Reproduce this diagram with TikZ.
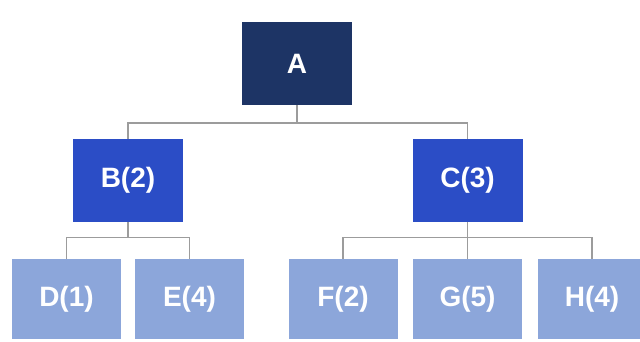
\documentclass[tikz,border=0pt]{standalone}
\usepackage{fontspec}
\setmainfont{Liberation Sans}
\begin{document}
\begin{tikzpicture}[x=1pt,y=-1pt,
  box/.style={rectangle, inner sep=0pt, minimum width=#1, text=white,
    font=\fontsize{28}{32}\selectfont\bfseries},
  lvla/.style={box=110pt, minimum height=83pt, fill=navy},
  lvlb/.style={box=110pt, minimum height=83pt, fill=royal},
  lvlc/.style={box=109pt, minimum height=80pt, fill=pale},
  link/.style={draw=linegray, line width=1.8pt}]
\definecolor{navy}{HTML}{1D3465}
\definecolor{royal}{HTML}{2B4DC6}
\definecolor{pale}{HTML}{8CA6DA}
\definecolor{linegray}{HTML}{9C9C9C}
\useasboundingbox (0,0) rectangle (640,342);
\fill[white] (0,0) rectangle (640,342);
% nodes
\node[lvla] (A) at (297,63.5) {A};
\node[lvlb] (B) at (128,180.5) {B(2)};
\node[lvlb] (C) at (467.5,180.5) {C(3)};
\node[lvlc] (D) at (66.5,299) {D(1)};
\node[lvlc] (E) at (189.5,299) {E(4)};
\node[lvlc] (F) at (343,299) {F(2)};
\node[lvlc] (G) at (467.5,299) {G(5)};
\node[lvlc] (H) at (592,299) {H(4)};
% connectors
\path[link] (A.south) |- (128,123) -| (B.north);
\path[link] (A.south) |- (467.5,123) -| (C.north);
\path[link] (B.south) |- (66.5,237.5) -| (D.north);
\path[link] (B.south) |- (189.5,237.5) -| (E.north);
\path[link] (C.south) |- (343,237.5) -| (F.north);
\path[link] (C.south) -- (G.north);
\path[link] (C.south) |- (592,237.5) -| (H.north);
\end{tikzpicture}
\end{document}
